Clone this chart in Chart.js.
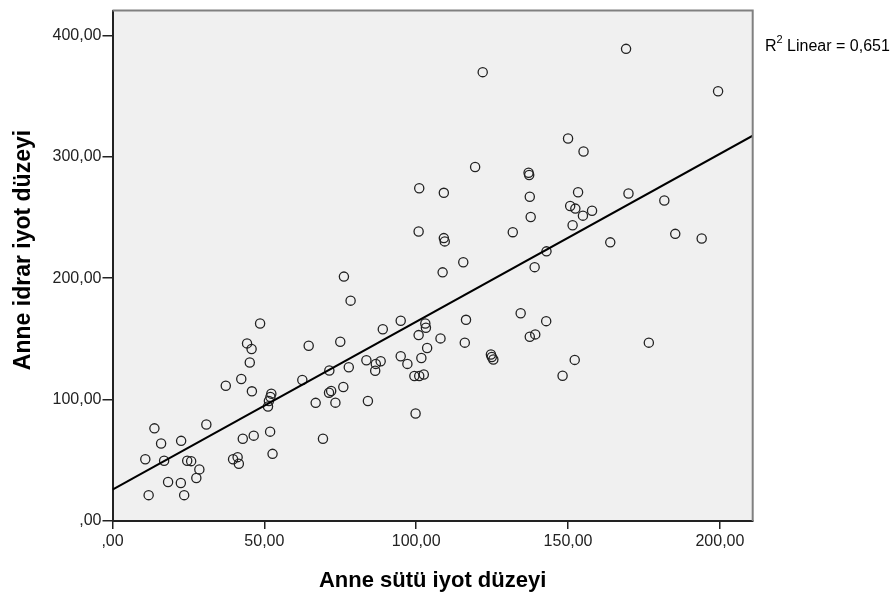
<!DOCTYPE html>
<html>
<head>
<meta charset="utf-8">
<script src="https://cdn.jsdelivr.net/npm/chart.js@4/dist/chart.umd.min.js"></script>
<style>
  html, body { margin: 0; padding: 0; background: #fff; }
  #wrap { width: 894px; height: 602px; }
</style>
</head>
<body>
<div id="wrap"><canvas id="chart" width="894" height="602"></canvas></div>
<script>
// values
const milkIodine = [
  121.9, 169.1, 199.4, 150.0, 155.1, 119.4, 137.0, 137.2, 109.1, 137.4,
  153.3, 169.9, 181.7, 150.7, 152.4, 157.9, 154.9, 137.7, 151.5, 131.8,
  109.1, 109.4, 185.3, 194.0, 163.9, 142.9, 115.5, 139.0, 108.7, 101.0,
  100.8, 76.2, 78.4, 116.4, 134.4, 142.8, 108.0, 116.0, 124.6, 124.9,
  125.4, 137.4, 139.2, 176.6, 152.2, 148.2, 48.6, 44.3, 45.8, 45.2,
  37.3, 42.4, 45.9, 52.3, 52.0, 51.5, 51.2, 64.6, 62.5, 75.0,
  71.4, 77.8, 83.6, 86.7, 88.3, 86.5, 94.9, 89.0, 103.0, 103.2,
  100.8, 103.6, 101.7, 94.9, 97.1, 99.4, 101.0, 102.5, 99.8, 71.3,
  72.0, 76.0, 73.4, 66.9, 84.1, 69.3, 30.9, 52.7, 51.9, 46.5,
  42.9, 39.7, 41.2, 41.6, 13.8, 16.0, 22.6, 10.8, 17.0, 24.6,
  25.9, 28.6, 27.6, 18.3, 22.5, 11.9, 23.6
];
const urineIodine = [
  369.7, 388.9, 354.0, 315.0, 304.3, 291.6, 286.9, 285.0, 270.3, 267.1,
  270.8, 269.8, 264.0, 259.4, 257.3, 255.6, 251.5, 250.4, 243.6, 237.9,
  233.0, 230.3, 236.5, 232.7, 229.5, 222.1, 213.1, 209.1, 204.8, 274.1,
  238.5, 201.3, 181.5, 165.7, 171.1, 164.6, 150.4, 146.9, 137.1, 135.1,
  133.0, 151.8, 153.7, 146.9, 132.7, 119.6, 162.7, 146.3, 141.7, 130.5,
  111.4, 116.9, 106.8, 104.9, 102.2, 98.9, 94.3, 144.4, 116.1, 147.7,
  124.0, 126.7, 132.4, 129.4, 131.6, 123.7, 164.9, 158.0, 162.7, 159.2,
  153.1, 142.5, 134.3, 135.7, 129.4, 119.4, 119.4, 120.7, 88.5, 105.7,
  107.1, 110.4, 97.5, 97.3, 98.9, 67.8, 79.5, 55.3, 73.6, 70.3,
  67.8, 50.9, 52.6, 47.2, 76.3, 63.8, 66.0, 50.9, 49.6, 49.6,
  49.3, 42.5, 35.4, 32.1, 31.3, 21.3, 21.3
];

// fit line end points
const fitX = [0, 210.8];
const fitY = [25.9, 317.4];

const xTicks = [0, 50, 100, 150, 200];
const xTickLabels = [",00", "50,00", "100,00", "150,00", "200,00"];
const yTicks = [0, 100, 200, 300, 400];
const yTickLabels = [",00", "100,00", "200,00", "300,00", "400,00"];

const xTitle = "Anne sütü iyot düzeyi";
const yTitle = "Anne idrar iyot düzeyi";
const fitLabel = " Linear = 0,651";

const X_MAX = 210.8;
const Y_MAX = 420.4;
const FONT = "'Liberation Sans', Arial, sans-serif";

const points = milkIodine.map((x, i) => ({ x: x, y: urineIodine[i] }));
const fitPoints = fitX.map((x, i) => ({ x: x, y: fitY[i] }));

// gray plot background
const plotBackground = {
  id: "plotBackground",
  beforeDraw(chart) {
    const { ctx, chartArea: a } = chart;
    ctx.save();
    ctx.fillStyle = "#f0f0f0";
    ctx.fillRect(a.left, a.top, a.right - a.left, a.bottom - a.top);
    ctx.restore();
  },
};

// top and right frame, titles, R2 note
const decorations = {
  id: "decorations",
  afterDraw(chart) {
    const { ctx, chartArea: a } = chart;
    ctx.save();
    ctx.strokeStyle = "#808080";
    ctx.lineWidth = 2;
    ctx.beginPath();
    ctx.moveTo(a.left, a.top);
    ctx.lineTo(a.right, a.top);
    ctx.lineTo(a.right, a.bottom);
    ctx.stroke();

    ctx.fillStyle = "#000";
    ctx.font = "bold 22px " + FONT;
    ctx.textAlign = "center";
    ctx.textBaseline = "alphabetic";
    ctx.fillText(xTitle, (a.left + a.right) / 2, 587);

    ctx.save();
    ctx.translate(29.5, 250);
    ctx.rotate(-Math.PI / 2);
    ctx.font = "bold 23px " + FONT;
    ctx.fillText(yTitle, 0, 0);
    ctx.restore();

    ctx.textAlign = "left";
    ctx.font = "16px " + FONT;
    ctx.fillText("R", 765, 51);
    const rw = ctx.measureText("R").width;
    ctx.font = "11px " + FONT;
    ctx.fillText("2", 765 + rw, 43);
    const sw = ctx.measureText("2").width;
    ctx.font = "16px " + FONT;
    ctx.fillText(fitLabel, 765 + rw + sw, 51);
    ctx.restore();
  },
};

new Chart(document.getElementById("chart"), {
  type: "scatter",
  data: {
    datasets: [
      {
        type: "line",
        data: fitPoints,
        borderColor: "#000",
        borderWidth: 2,
        pointRadius: 0,
        fill: false,
      },
      {
        data: points,
        pointRadius: 4.6,
        pointBorderWidth: 1.3,
        pointBorderColor: "#222",
        pointBackgroundColor: "rgba(0,0,0,0)",
      },
    ],
  },
  options: {
    responsive: false,
    animation: false,
    devicePixelRatio: 1,
    layout: { padding: { top: 6.7, right: 141.3, left: 0, bottom: 0 } },
    plugins: { legend: { display: false }, tooltip: { enabled: false } },
    scales: {
      x: {
        type: "linear",
        min: 0,
        max: X_MAX,
        afterBuildTicks: (scale) => {
          scale.ticks = xTicks.map((v) => ({ value: v }));
        },
        afterFit: (scale) => {
          scale.height = 81;
        },
        ticks: {
          callback: (v, i) => xTickLabels[i],
          color: "#222",
          font: { family: FONT, size: 16 },
          padding: 3,
          maxRotation: 0,
        },
        grid: { drawOnChartArea: false, drawTicks: true, tickLength: 8, color: "#222", lineWidth: 1.5 },
        border: { display: true, color: "#222", width: 2 },
      },
      y: {
        type: "linear",
        min: 0,
        max: Y_MAX,
        afterBuildTicks: (scale) => {
          scale.ticks = yTicks.map((v) => ({ value: v }));
        },
        afterFit: (scale) => {
          scale.width = 112.5;
        },
        ticks: {
          callback: (v, i) => yTickLabels[i],
          color: "#222",
          font: { family: FONT, size: 16 },
          padding: 1,
        },
        grid: { drawOnChartArea: false, drawTicks: true, tickLength: 10, color: "#222", lineWidth: 1.5 },
        border: { display: true, color: "#222", width: 2 },
      },
    },
  },
  plugins: [plotBackground, decorations],
});
</script>
</body>
</html>
